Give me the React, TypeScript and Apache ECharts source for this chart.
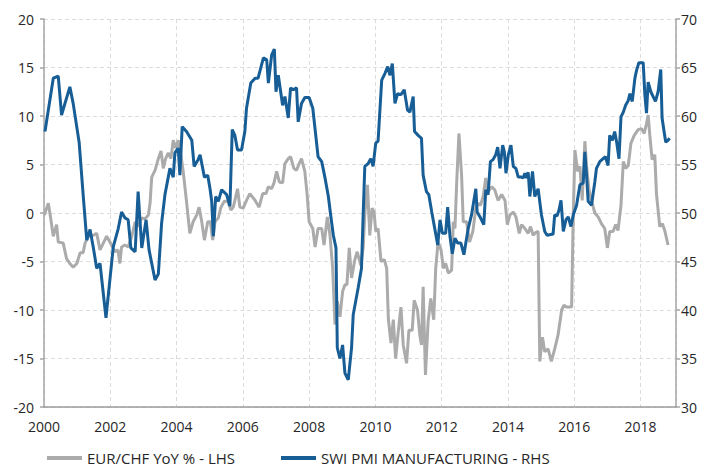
import React, { useEffect, useRef } from "react";
import * as echarts from "echarts";

// SWI PMI Manufacturing (RHS)
const pmiDates = [2000.03,2000.28,2000.43,2000.53,2000.78,2000.88,2001.06,2001.19,2001.29,2001.39,2001.49,2001.59,2001.69,2001.87,2002.09,2002.24,2002.34,2002.44,2002.54,2002.62,2002.75,2002.84,2002.95,2003.08,2003.17,2003.35,2003.45,2003.55,2003.65,2003.80,2003.90,2003.95,2004.05,2004.10,2004.17,2004.30,2004.46,2004.53,2004.65,2004.71,2004.84,2004.94,2005.01,2005.06,2005.11,2005.18,2005.26,2005.36,2005.51,2005.61,2005.68,2005.76,2005.84,2005.96,2006.06,2006.11,2006.24,2006.37,2006.46,2006.62,2006.72,2006.77,2006.87,2006.95,2007.00,2007.07,2007.20,2007.27,2007.37,2007.44,2007.52,2007.62,2007.67,2007.77,2007.87,2008.00,2008.11,2008.21,2008.27,2008.38,2008.48,2008.58,2008.65,2008.73,2008.81,2008.85,2008.93,2009.01,2009.08,2009.18,2009.28,2009.33,2009.48,2009.58,2009.63,2009.68,2009.78,2009.86,2009.93,2010.01,2010.08,2010.19,2010.29,2010.37,2010.44,2010.51,2010.59,2010.67,2010.77,2010.87,2010.97,2011.04,2011.14,2011.18,2011.29,2011.39,2011.44,2011.54,2011.61,2011.70,2011.79,2011.88,2011.95,2012.02,2012.12,2012.18,2012.25,2012.32,2012.40,2012.48,2012.58,2012.67,2012.80,2012.90,2013.03,2013.07,2013.17,2013.27,2013.33,2013.40,2013.47,2013.55,2013.63,2013.69,2013.76,2013.84,2013.89,2013.94,2014.01,2014.09,2014.16,2014.24,2014.31,2014.41,2014.46,2014.51,2014.56,2014.61,2014.66,2014.74,2014.81,2014.91,2015.01,2015.11,2015.18,2015.32,2015.36,2015.41,2015.48,2015.54,2015.60,2015.67,2015.75,2015.82,2015.90,2015.97,2016.07,2016.17,2016.27,2016.32,2016.37,2016.42,2016.52,2016.62,2016.67,2016.77,2016.87,2016.94,2017.02,2017.07,2017.15,2017.22,2017.28,2017.35,2017.41,2017.48,2017.55,2017.63,2017.68,2017.75,2017.83,2017.88,2017.95,2018.08,2018.13,2018.18,2018.23,2018.31,2018.38,2018.45,2018.53,2018.61,2018.65,2018.71,2018.76,2018.83,2018.88];
const pmiValues = [58.4,63.9,64.1,60.1,63.0,61.3,57.3,51.5,47.2,48.3,46.4,44.3,44.8,39.2,46.5,48.4,50.1,49.5,49.3,46.4,46.0,52.2,46.4,49.3,46.2,43.1,43.7,49.0,51.9,54.6,53.7,56.2,56.7,53.9,58.9,58.4,57.5,54.8,55.5,56.0,53.7,53.9,52.5,51.2,47.6,51.7,51.2,52.4,51.9,50.7,58.6,58.0,56.5,56.5,58.4,60.8,63.4,63.9,63.9,66.0,65.8,63.4,66.3,66.9,62.5,64.2,61.1,62.0,59.8,62.9,62.7,62.9,59.4,61.3,61.9,61.9,60.8,57.7,55.8,55.3,53.6,51.7,49.8,47.7,46.4,36.1,35.0,36.4,33.5,32.8,36.1,39.5,42.3,44.3,49.8,54.8,55.1,55.6,54.8,57.2,57.4,63.7,64.4,65.1,64.2,65.4,61.3,62.3,62.2,62.7,60.6,60.4,62.0,58.4,58.0,57.7,53.9,52.2,51.9,50.1,48.4,46.7,49.3,47.9,47.9,50.6,47.6,45.8,47.4,46.9,46.9,45.7,48.4,49.8,52.5,50.1,49.5,48.8,52.4,51.9,55.3,55.5,56.0,56.8,54.6,57.0,56.3,54.1,56.0,57.0,54.8,54.6,53.7,53.7,53.6,54.1,53.6,54.2,51.7,54.3,51.7,52.5,49.8,48.1,47.7,47.8,47.8,49.8,49.7,50.3,51.3,48.1,49.3,49.6,48.6,49.8,50.8,52.9,53.1,56.3,53.9,51.2,50.8,53.2,54.6,55.3,55.6,55.8,54.9,58.0,57.5,58.4,57.3,55.6,59.9,60.4,61.1,61.6,62.3,61.5,63.9,64.7,65.5,65.5,62.2,60.3,63.5,62.5,62.0,61.5,62.5,64.8,59.8,58.4,57.3,57.5,57.7];

// EUR/CHF YoY % (LHS)
const fxDates = [2000.01,2000.13,2000.20,2000.28,2000.38,2000.43,2000.58,2000.68,2000.78,2000.88,2000.99,2001.09,2001.18,2001.24,2001.34,2001.49,2001.59,2001.69,2001.79,2001.89,2002.04,2002.14,2002.23,2002.29,2002.34,2002.44,2002.54,2002.65,2002.75,2002.84,2002.95,2003.05,2003.15,2003.20,2003.25,2003.35,2003.45,2003.53,2003.60,2003.67,2003.75,2003.83,2003.90,2003.97,2004.05,2004.13,2004.20,2004.30,2004.40,2004.50,2004.61,2004.68,2004.76,2004.84,2004.94,2005.02,2005.09,2005.16,2005.26,2005.34,2005.44,2005.55,2005.64,2005.71,2005.76,2005.84,2005.91,2006.01,2006.11,2006.21,2006.37,2006.49,2006.60,2006.70,2006.77,2006.87,2006.94,2007.02,2007.10,2007.20,2007.27,2007.37,2007.44,2007.54,2007.62,2007.70,2007.77,2007.87,2007.94,2008.00,2008.11,2008.18,2008.27,2008.38,2008.45,2008.55,2008.63,2008.71,2008.78,2008.85,2008.93,2009.01,2009.08,2009.14,2009.21,2009.28,2009.38,2009.45,2009.56,2009.63,2009.68,2009.76,2009.83,2009.90,2009.96,2010.01,2010.08,2010.17,2010.27,2010.34,2010.39,2010.47,2010.54,2010.61,2010.69,2010.77,2010.84,2010.94,2011.01,2011.11,2011.17,2011.27,2011.34,2011.39,2011.44,2011.51,2011.59,2011.67,2011.76,2011.82,2011.89,2011.98,2012.05,2012.12,2012.20,2012.30,2012.35,2012.40,2012.45,2012.52,2012.60,2012.65,2012.75,2012.84,2012.94,2013.03,2013.10,2013.17,2013.25,2013.33,2013.40,2013.51,2013.60,2013.70,2013.81,2013.91,2013.98,2014.06,2014.16,2014.24,2014.34,2014.41,2014.51,2014.61,2014.68,2014.76,2014.84,2014.91,2014.96,2015.04,2015.11,2015.21,2015.31,2015.41,2015.51,2015.62,2015.69,2015.77,2015.92,2015.97,2016.02,2016.10,2016.17,2016.24,2016.32,2016.37,2016.44,2016.52,2016.62,2016.72,2016.82,2016.92,2017.00,2017.07,2017.17,2017.25,2017.32,2017.41,2017.48,2017.55,2017.63,2017.71,2017.81,2017.93,2018.03,2018.11,2018.18,2018.23,2018.28,2018.35,2018.43,2018.48,2018.58,2018.66,2018.73,2018.83];
const fxValues = [-0.2,1.0,-0.5,-2.4,-1.2,-3.0,-3.1,-4.7,-5.2,-5.6,-5.2,-4.1,-4.1,-3.1,-2.4,-2.3,-2.1,-3.8,-3.1,-2.4,-3.3,-4.0,-3.8,-5.2,-3.5,-3.3,-3.5,-2.4,-0.9,-1.4,-0.5,-0.6,-0.2,1.0,3.7,4.4,5.6,6.4,4.6,5.6,6.2,5.6,7.5,6.7,7.5,6.0,4.3,1.2,-2.1,-0.9,-0.2,0.6,-0.9,-2.8,-0.9,-0.9,-2.8,-0.9,-0.5,0.6,1.2,1.2,0.3,0.6,1.3,2.5,0.6,0.5,1.3,2.0,1.3,0.6,2.0,2.0,2.7,2.5,3.1,4.3,3.2,3.1,5.1,5.6,5.8,4.6,4.4,5.1,5.6,4.3,1.9,-0.9,-1.6,-3.5,-1.6,-1.6,-3.3,-0.4,-2.3,-5.7,-11.5,-9.1,-10.7,-8.1,-7.4,-7.4,-3.6,-6.7,-4.8,-4.0,-5.4,-3.6,-0.2,2.9,-2.3,0.5,0.1,-1.9,-1.6,-5.0,-4.8,-5.7,-10.9,-13.4,-11.0,-15.0,-12.2,-9.7,-13.6,-15.5,-12.1,-12.1,-9.0,-10.0,-12.6,-13.6,-7.6,-16.7,-11.2,-8.8,-11.0,-5.7,-3.0,-3.8,-5.7,-5.2,-6.2,-5.9,-0.9,-1.6,2.9,8.2,3.9,-0.9,-0.9,-3.0,-1.9,0.5,1.0,0.8,1.7,3.6,2.2,2.7,2.4,1.3,1.9,1.3,-1.2,-0.2,0.1,-0.4,-2.1,-1.2,-1.6,-2.1,-1.4,-2.3,-2.0,-1.9,-15.3,-12.8,-14.3,-14.0,-15.3,-14.0,-12.6,-10.0,-9.5,-9.7,-9.7,-0.2,6.5,4.3,4.8,1.3,7.4,4.9,2.5,1.3,0.0,-0.4,-1.1,-1.6,-3.6,-1.9,-1.9,-1.2,-1.8,0.8,5.3,4.6,4.9,7.2,8.0,8.6,8.7,8.2,9.2,10.1,8.0,5.5,6.0,2.0,-1.4,-1.1,-1.8,-3.3];

const xTickYears = [2000, 2002, 2004, 2006, 2008, 2010, 2012, 2014, 2016, 2018];
const seriesNames = ["EUR/CHF YoY % - LHS", "SWI PMI MANUFACTURING - RHS"];

const FONT = "'Open Sans', 'DejaVu Sans', sans-serif";
const GREY = "#ababab";
const BLUE = "#175d96";

export default function App() {
  const ref = useRef<HTMLDivElement>(null);
  useEffect(() => {
    document.body.style.margin = "0";
    const chart = echarts.init(ref.current!, null, { renderer: "svg" });
    const fxData = fxDates.map((d, i) => [d, fxValues[i]]);
    const pmiData = pmiDates.map((d, i) => [d, pmiValues[i]]);
    const xMin = 2000;
    const xMax = 2019.07;
    chart.setOption({
      animation: false,
      textStyle: { fontFamily: FONT },
      grid: { left: 44, right: 29, top: 19, bottom: 61 },
      legend: {
        left: 42,
        top: 444,
        icon: "rect",
        itemWidth: 35,
        itemHeight: 4,
        itemGap: 46,
        data: seriesNames,
        textStyle: { fontSize: 15, lineHeight: 18, color: "#262626", fontFamily: FONT },
      },
      xAxis: [
        {
          type: "value",
          min: xMin,
          max: xMax,
          interval: 2,
          axisLine: { show: false },
          axisTick: { show: false },
          axisLabel: {
            margin: 12,
            fontSize: 14,
            color: "#262626",
            fontFamily: FONT,
            formatter: (v: number) => {
              const r = Math.round(v);
              return Math.abs(v - r) < 1e-6 && xTickYears.includes(r) ? String(r) : "";
            },
          },
          splitLine: { show: true, lineStyle: { type: [4, 3], color: "#dcdcdc", width: 1 } },
        },
        {
          type: "value",
          min: xMin,
          max: xMax,
          position: "bottom",
          axisLine: { show: true, onZero: true, lineStyle: { color: "#9a9a9a", width: 1.5 } },
          axisTick: { show: false },
          axisLabel: { show: false },
          splitLine: { show: false },
        },
      ],
      yAxis: [
        {
          type: "value",
          min: -20,
          max: 20,
          interval: 5,
          position: "left",
          axisLine: { show: true, lineStyle: { color: "#a6a6a6", width: 1.5 } },
          axisTick: { show: true, length: 4, lineStyle: { color: "#a6a6a6", width: 1.5 } },
          axisLabel: { fontSize: 14, color: "#262626", margin: 10, fontFamily: FONT },
          splitLine: { show: true, lineStyle: { type: [4, 3], color: "#dcdcdc", width: 1 } },
        },
        {
          type: "value",
          min: 30,
          max: 70,
          interval: 5,
          position: "right",
          axisLine: { show: true, lineStyle: { color: "#a6a6a6", width: 1.5 } },
          axisTick: { show: true, length: 4, lineStyle: { color: "#a6a6a6", width: 1.5 } },
          axisLabel: { fontSize: 14, color: "#262626", margin: 5, fontFamily: FONT },
          splitLine: { show: false },
        },
      ],
      series: [
        {
          name: seriesNames[0],
          type: "line",
          xAxisIndex: 0,
          yAxisIndex: 0,
          data: fxData,
          showSymbol: false,
          symbol: "none",
          lineStyle: { width: 3, color: GREY },
          itemStyle: { color: GREY },
          z: 2,
        },
        {
          name: seriesNames[1],
          type: "line",
          xAxisIndex: 0,
          yAxisIndex: 1,
          data: pmiData,
          showSymbol: false,
          symbol: "none",
          lineStyle: { width: 3, color: BLUE },
          itemStyle: { color: BLUE },
          z: 3,
        },
      ],
    });
    return () => chart.dispose();
  }, []);
  return <div ref={ref} style={{ width: 705, height: 468 }} />;
}
